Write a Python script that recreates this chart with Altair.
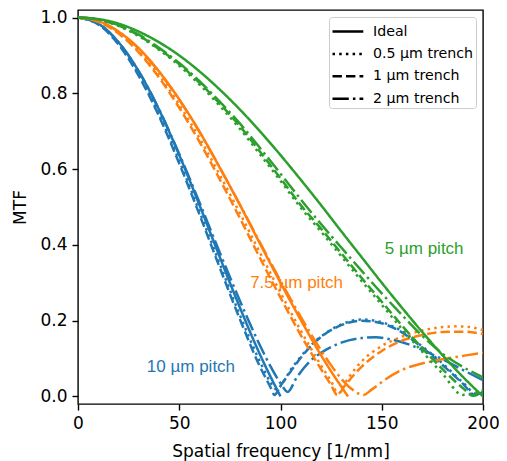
import altair as alt
import pandas as pd

kinds = ["Ideal", "0.5 μm trench", "1 μm trench", "2 μm trench"]
pitch_keys = ["10", "7.5", "5"]
pitch_colors = ["#1f77b4", "#ff7f0e", "#2ca02c"]

# ---- 10 um pitch (blue) ----
f_10_ideal = [0, 10, 20, 30, 40, 50, 60, 70, 80, 90, 100]
m_10_ideal = [1.0, 0.984, 0.935, 0.858, 0.757, 0.637, 0.505, 0.368, 0.234, 0.109, 0.0]
f_10_t05 = [0, 10, 20, 30, 40, 50, 60, 70, 80, 90, 95, 98, 101, 105, 110, 115, 120, 130, 140, 150, 160, 170, 180, 190, 197, 200]
m_10_t05 = [1.0, 0.983, 0.931, 0.850, 0.745, 0.622, 0.488, 0.350, 0.214, 0.090, 0.038, 0.018, 0.035, 0.070, 0.105, 0.135, 0.158, 0.190, 0.203, 0.196, 0.172, 0.132, 0.087, 0.037, 0.006, 0.012]
f_10_t1 = [0, 10, 20, 30, 40, 50, 60, 70, 80, 90, 95, 97, 100, 105, 110, 115, 120, 130, 140, 150, 160, 170, 180, 190, 196, 200]
m_10_t1 = [1.0, 0.982, 0.929, 0.846, 0.740, 0.615, 0.480, 0.340, 0.203, 0.077, 0.025, 0.004, 0.028, 0.066, 0.102, 0.133, 0.157, 0.188, 0.200, 0.193, 0.169, 0.129, 0.083, 0.034, 0.004, 0.014]
f_10_t2 = [0, 10, 20, 30, 40, 50, 60, 70, 80, 90, 95, 100, 103.5, 108, 115, 120, 130, 140, 147, 155, 165, 170, 180, 190, 200]
m_10_t2 = [1.0, 0.984, 0.935, 0.858, 0.758, 0.640, 0.512, 0.380, 0.252, 0.133, 0.080, 0.035, 0.012, 0.050, 0.095, 0.115, 0.142, 0.154, 0.156, 0.150, 0.134, 0.123, 0.098, 0.070, 0.043]

# ---- 7.5 um pitch (orange) ----
f_75_ideal = [0, 10, 20, 30, 40, 50, 60, 70, 80, 90, 100, 110, 120, 125, 130, 133.3]
m_75_ideal = [1.0, 0.991, 0.963, 0.919, 0.858, 0.784, 0.699, 0.604, 0.505, 0.402, 0.300, 0.202, 0.109, 0.066, 0.026, 0.0]
f_75_t05 = [0, 10, 20, 30, 40, 50, 60, 70, 80, 90, 100, 110, 120, 125, 128.5, 133, 140, 150, 160, 170, 180, 186, 192, 200]
m_75_t05 = [1.0, 0.990, 0.960, 0.912, 0.848, 0.770, 0.682, 0.585, 0.483, 0.378, 0.274, 0.174, 0.082, 0.040, 0.008, 0.045, 0.092, 0.133, 0.158, 0.174, 0.183, 0.185, 0.184, 0.175]
f_75_t1 = [0, 10, 20, 30, 40, 50, 60, 70, 80, 90, 100, 110, 120, 125, 128, 132, 140, 150, 160, 170, 180, 190, 200]
m_75_t1 = [1.0, 0.989, 0.958, 0.908, 0.842, 0.762, 0.672, 0.573, 0.470, 0.364, 0.261, 0.162, 0.072, 0.030, 0.004, 0.030, 0.078, 0.120, 0.147, 0.162, 0.170, 0.171, 0.165]
f_75_t2 = [0, 10, 20, 30, 40, 50, 60, 70, 80, 90, 100, 110, 120, 125, 130, 135, 141, 145, 150, 160, 170, 180, 190, 200]
m_75_t2 = [1.0, 0.991, 0.963, 0.918, 0.857, 0.783, 0.698, 0.604, 0.506, 0.405, 0.305, 0.210, 0.122, 0.082, 0.047, 0.020, 0.004, 0.018, 0.038, 0.070, 0.087, 0.098, 0.107, 0.115]

# ---- 5 um pitch (green) ----
f_5_ideal = [0, 10, 20, 30, 40, 50, 60, 70, 80, 90, 100, 110, 120, 130, 140, 150, 160, 170, 180, 190, 200]
m_5_ideal = [1.0, 0.996, 0.984, 0.963, 0.935, 0.900, 0.858, 0.810, 0.757, 0.699, 0.637, 0.572, 0.505, 0.436, 0.368, 0.300, 0.234, 0.170, 0.109, 0.052, 0.0]
f_5_t05 = [0, 10, 20, 30, 40, 50, 60, 70, 80, 90, 100, 110, 120, 130, 140, 150, 160, 170, 180, 190, 195, 200]
m_5_t05 = [1.0, 0.995, 0.978, 0.951, 0.915, 0.873, 0.823, 0.767, 0.706, 0.638, 0.569, 0.498, 0.435, 0.370, 0.305, 0.242, 0.178, 0.118, 0.060, 0.004, 0.008, 0.016]
f_5_t1 = [0, 10, 20, 30, 40, 50, 60, 70, 80, 90, 100, 110, 120, 130, 140, 150, 160, 170, 180, 190, 195, 200]
m_5_t1 = [1.0, 0.995, 0.979, 0.953, 0.917, 0.877, 0.828, 0.773, 0.713, 0.645, 0.576, 0.505, 0.443, 0.378, 0.313, 0.250, 0.187, 0.127, 0.072, 0.022, 0.002, 0.012]
f_5_t2 = [0, 10, 20, 30, 40, 50, 60, 70, 80, 90, 100, 110, 120, 130, 140, 150, 160, 170, 180, 190, 200]
m_5_t2 = [1.0, 0.995, 0.980, 0.955, 0.920, 0.880, 0.832, 0.778, 0.720, 0.655, 0.588, 0.520, 0.455, 0.393, 0.332, 0.272, 0.215, 0.160, 0.113, 0.078, 0.050]

# ---- annotations ----
label_text = ["10 µm pitch", "7.5 µm pitch", "5 µm pitch"]
label_f = [34, 85, 151.5]
label_m = [0.078, 0.30, 0.39]

curves = [
    ("10", kinds[0], f_10_ideal, m_10_ideal),
    ("10", kinds[1], f_10_t05, m_10_t05),
    ("10", kinds[2], f_10_t1, m_10_t1),
    ("10", kinds[3], f_10_t2, m_10_t2),
    ("7.5", kinds[0], f_75_ideal, m_75_ideal),
    ("7.5", kinds[1], f_75_t05, m_75_t05),
    ("7.5", kinds[2], f_75_t1, m_75_t1),
    ("7.5", kinds[3], f_75_t2, m_75_t2),
    ("5", kinds[0], f_5_ideal, m_5_ideal),
    ("5", kinds[1], f_5_t05, m_5_t05),
    ("5", kinds[2], f_5_t1, m_5_t1),
    ("5", kinds[3], f_5_t2, m_5_t2),
]

rows = []
for p, k, fs, ms in curves:
    for i, (f, m) in enumerate(zip(fs, ms)):
        rows.append({"pitch": p, "kind": k, "f": f, "mtf": m, "idx": i})
df = pd.DataFrame(rows)

labels_df = pd.DataFrame({"pitch": pitch_keys, "label": label_text,
                          "f": label_f, "mtf": label_m})

xscale = alt.Scale(domain=[0, 200], nice=False)
yscale = alt.Scale(domain=[-0.02, 1.02], nice=False, zero=False)
cscale = alt.Scale(domain=pitch_keys, range=pitch_colors)

lines = alt.Chart(df).mark_line(strokeWidth=2.5, interpolate="monotone",
                                strokeCap="butt", clip=True).encode(
    x=alt.X("f:Q", scale=xscale,
            axis=alt.Axis(values=[0, 50, 100, 150, 200], labelFlush=False,
                          title="Spatial frequency [1/mm]", titlePadding=12)),
    y=alt.Y("mtf:Q", scale=yscale,
            axis=alt.Axis(values=[0, 0.2, 0.4, 0.6, 0.8, 1.0], format=".1f",
                          labelFlush=False, title="MTF", titlePadding=10)),
    color=alt.Color("pitch:N", scale=cscale, legend=None),
    strokeDash=alt.StrokeDash(
        "kind:N",
        sort=kinds,
        scale=alt.Scale(domain=kinds,
                        range=[[1, 0], [2.5, 4.2], [9.4, 4.1], [16.3, 4.1, 2.5, 4.1]]),
        legend=alt.Legend(title=None, orient="top-right", offset=7, padding=2,
                          strokeColor="#cccccc", fillColor="white",
                          cornerRadius=3, symbolType="M-1,0H1.8", symbolSize=484,
                          symbolStrokeWidth=2.5, symbolStrokeColor="black",
                          labelFont="DejaVu Sans", labelFontSize=14.2,
                          labelColor="black", labelOffset=17, rowPadding=2.4),
    ),
    order=alt.Order("idx:Q"),
)

texts = alt.Chart(labels_df).mark_text(align="left", baseline="middle",
                                        font="Liberation Sans", fontSize=17).encode(
    x=alt.X("f:Q", scale=xscale),
    y=alt.Y("mtf:Q", scale=yscale),
    text="label:N",
    color=alt.Color("pitch:N", scale=cscale, legend=None),
)

chart = alt.layer(lines, texts).properties(
    width=405, height=394,
    autosize="none",
    padding={"left": 70, "top": 2, "right": 16, "bottom": 57},
).configure_view(
    stroke="black", strokeWidth=1.4
).configure_axis(
    labelFont="DejaVu Sans", labelFontSize=17, labelColor="black",
    titleFont="DejaVu Sans", titleFontSize=17, titleFontWeight="normal",
    titleColor="black", tickColor="black", tickSize=6, tickWidth=1.4,
    labelPadding=5, grid=False, domain=False,
)

chart.save("out.html", embed_options={"renderer": "svg", "actions": False})
